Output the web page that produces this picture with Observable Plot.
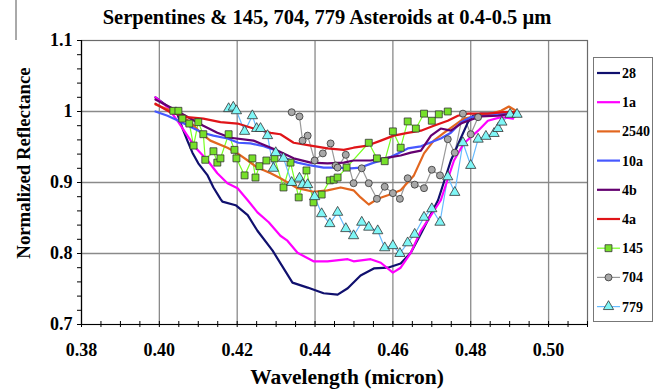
<!DOCTYPE html>
<html>
<head>
<meta charset="utf-8">
<script src="https://cdn.jsdelivr.net/npm/d3@7"></script>
<script src="https://cdn.jsdelivr.net/npm/@observablehq/plot@0.6"></script>
<style>
  body { margin: 0; background: #fff; }
  #wrap { position: relative; width: 666px; height: 390px; overflow: hidden; }
  #wrap svg { position: absolute; left: 0; top: 0; }
  #wrap, #wrap svg, #wrap text { font-family: "Liberation Serif", "Times New Roman", Times, "DejaVu Serif", serif !important; }
</style>
</head>
<body>
<div id="wrap"></div>
<script>
// ---- data (wavelength in micron, normalized reflectance) ----
const w28 = [0.399,0.4046,0.4059,0.4072,0.4085,0.41,0.4124,0.4139,0.4157,0.4162,0.4196,0.4227,0.4252,0.4291,0.4342,0.4381,0.4422,0.4458,0.4484,0.4517,0.4551,0.4587,0.462,0.4646,0.4672,0.4716,0.4749,0.4775,0.4793,0.4806,0.4826,0.4878,0.4909];
const r28 = [1.02,0.997,0.977,0.959,0.942,0.927,0.91,0.893,0.877,0.873,0.868,0.854,0.832,0.804,0.759,0.752,0.744,0.742,0.751,0.769,0.779,0.78,0.786,0.801,0.828,0.875,0.931,0.963,0.985,0.994,0.997,0.997,0.999];

const w1a = [0.399,0.4021,0.4049,0.4072,0.4093,0.4124,0.4149,0.4175,0.4201,0.4227,0.4252,0.4281,0.4311,0.4329,0.4355,0.4396,0.4432,0.4484,0.4499,0.4543,0.4569,0.46,0.462,0.4646,0.4672,0.4723,0.4757,0.4782,0.4819,0.4844,0.4878,0.4909];
const r1a = [1.02,1.006,0.985,0.966,0.949,0.931,0.913,0.899,0.892,0.875,0.858,0.844,0.825,0.818,0.801,0.789,0.789,0.792,0.789,0.792,0.787,0.773,0.78,0.801,0.832,0.875,0.931,0.955,0.973,0.987,0.992,0.99];

const w2540 = [0.399,0.4041,0.408,0.4106,0.4131,0.4175,0.4201,0.4227,0.4252,0.4286,0.4311,0.4355,0.4396,0.4432,0.4466,0.4499,0.4517,0.4538,0.4561,0.4587,0.462,0.4654,0.468,0.4705,0.4731,0.4757,0.4782,0.4819,0.4852,0.4878,0.4898,0.4916];
const r2540 = [1.01,0.999,0.985,0.97,0.959,0.949,0.941,0.931,0.921,0.913,0.906,0.892,0.887,0.889,0.893,0.889,0.879,0.869,0.877,0.882,0.889,0.91,0.941,0.959,0.97,0.98,0.99,0.994,0.997,1.001,1.007,1.001];

const w10a = [0.399,0.4021,0.4049,0.4085,0.4111,0.4139,0.4175,0.4203,0.4234,0.4268,0.4299,0.4319,0.4355,0.4389,0.4422,0.4458,0.4492,0.4517,0.4551,0.4587,0.4613,0.4638,0.4672,0.469,0.4723,0.4749,0.4775,0.48,0.4834,0.4878,0.4916];
const r10a = [1.0,0.994,0.987,0.977,0.97,0.966,0.962,0.956,0.955,0.951,0.945,0.935,0.928,0.924,0.921,0.921,0.92,0.921,0.928,0.934,0.941,0.948,0.951,0.955,0.962,0.97,0.985,0.992,0.994,0.997,0.999];

const w4b = [0.399,0.4028,0.4067,0.4113,0.4149,0.4183,0.4242,0.426,0.4299,0.4345,0.4389,0.4432,0.4474,0.4499,0.4543,0.4587,0.462,0.4646,0.4672,0.4698,0.4723,0.4749,0.4775,0.4793,0.4826,0.487,0.4911];
const r4b = [1.017,1.006,0.994,0.98,0.97,0.963,0.959,0.955,0.946,0.934,0.928,0.927,0.928,0.931,0.931,0.935,0.938,0.942,0.945,0.966,0.976,0.973,0.983,0.987,0.993,0.994,0.997];

const w4a = [0.399,0.4028,0.4072,0.4113,0.4157,0.4201,0.4242,0.4286,0.4311,0.4345,0.4389,0.4432,0.4474,0.4499,0.4535,0.4569,0.4602,0.4638,0.4672,0.4705,0.4741,0.4767,0.4793,0.4844,0.4885,0.4916];
const r4a = [1.011,0.999,0.992,0.99,0.985,0.983,0.976,0.97,0.968,0.956,0.952,0.948,0.946,0.949,0.952,0.959,0.966,0.97,0.973,0.98,0.987,0.994,0.997,0.997,0.999,0.999];

const w145 = [0.4036,0.4049,0.4059,0.4077,0.4088,0.41,0.4113,0.4118,0.4139,0.4149,0.4157,0.4178,0.4193,0.4198,0.4219,0.4239,0.4247,0.4257,0.4275,0.4296,0.4319,0.4337,0.4358,0.4378,0.4396,0.4417,0.4438,0.4448,0.4458,0.4481,0.4538,0.4559,0.4579,0.46,0.462,0.4638,0.4659,0.468,0.47,0.4718,0.4741];
const r145 = [1.001,1.001,0.99,0.983,0.952,0.985,0.968,0.932,0.944,0.928,0.934,0.968,0.946,0.934,0.91,0.934,0.907,0.923,0.931,0.934,0.893,0.928,0.879,0.917,0.872,0.883,0.903,0.904,0.907,0.921,0.956,0.934,0.93,0.972,0.949,0.986,0.976,0.997,0.987,0.996,1.0];

const w704 = [0.434,0.436,0.4368,0.4381,0.4399,0.442,0.444,0.4453,0.4458,0.4479,0.4499,0.452,0.4538,0.4559,0.4579,0.46,0.4618,0.4638,0.4656,0.468,0.47,0.4721,0.4741,0.4759,0.478,0.48,0.4819];
const r704 = [0.999,0.993,0.959,0.966,0.931,0.941,0.955,0.924,0.921,0.939,0.899,0.92,0.899,0.877,0.894,0.885,0.877,0.906,0.897,0.892,0.918,0.91,0.961,0.942,0.997,0.968,0.992];

const w779 = [0.4178,0.419,0.4198,0.4219,0.4239,0.425,0.426,0.4278,0.4293,0.4299,0.4319,0.434,0.436,0.4368,0.4381,0.4399,0.4417,0.4438,0.4458,0.4479,0.4499,0.452,0.4538,0.4561,0.4579,0.46,0.4618,0.4638,0.4656,0.468,0.47,0.4721,0.4741,0.4759,0.478,0.48,0.4819,0.4839,0.486,0.487,0.488,0.4901,0.4919];
const r779 = [1.004,1.006,1.001,0.972,0.994,0.976,0.976,0.966,0.92,0.942,0.934,0.9,0.906,0.897,0.897,0.88,0.856,0.842,0.858,0.835,0.825,0.844,0.837,0.832,0.808,0.811,0.8,0.815,0.827,0.851,0.863,0.844,0.908,0.886,0.956,0.924,0.961,0.965,0.969,0.976,0.985,0.996,0.996];

const xTicks = [0.38,0.40,0.42,0.44,0.46,0.48,0.50];
const yTicks = [0.7,0.8,0.9,1.0,1.1];

const lineSeries = [
  {name: "28",   color: "#10106e", w: w28,   r: r28},
  {name: "1a",   color: "#ff00ff", w: w1a,   r: r1a},
  {name: "2540", color: "#e2661f", w: w2540, r: r2540},
  {name: "10a",  color: "#4658ff", w: w10a,  r: r10a},
  {name: "4b",   color: "#640070", w: w4b,   r: r4b},
  {name: "4a",   color: "#e01418", w: w4a,   r: r4a}
];
const markSeries = [
  {name: "145", color: "#77ff22", fill: "#77e02a", symbol: "square",   size: 3.9, w: w145, r: r145},
  {name: "704", color: "#999999", fill: "#a8a8a8", symbol: "circle",   size: 3.5, w: w704, r: r704},
  {name: "779", color: "#66bbff", fill: "#7ff6f6", symbol: "triangle", size: 3.8, w: w779, r: r779}
];

const FONT = "'Liberation Serif', 'Times New Roman', Times, 'DejaVu Serif', serif";
const toRows = s => s.w.map((w, i) => ({w, r: s.r[i]}));

const xMinor = d3.range(76, 103).map(i => i / 200);
const yMinor = d3.range(35, 56).map(i => i / 50);
const xGrid = xTicks.filter(t => t > 0.385);
const yGrid = yTicks.filter(t => t > 0.75 && t < 1.05);

const marks = [
  Plot.gridX(xGrid, {stroke: "#8a8a8a", strokeOpacity: 1, strokeWidth: 1.3}),
  Plot.gridY(yGrid, {stroke: "#8a8a8a", strokeOpacity: 1, strokeWidth: 1.3}),
  Plot.frame({stroke: "#6a6a6a", strokeWidth: 1.2}),
  Plot.ruleY([0.7], {stroke: "#000", strokeWidth: 1.2}),
  Plot.ruleX([0.38], {stroke: "#000", strokeWidth: 1.2}),
  Plot.axisX({ticks: xMinor, tickSize: 6, dy: -3, tickFormat: () => "", label: null, stroke: "#000"}),
  Plot.axisX({ticks: xTicks, tickSize: 0, tickPadding: 19, tickFormat: d3.format(".2f"), label: null, fontSize: 18, fontWeight: "bold", fill: "#000", fontFamily: FONT}),
  Plot.axisY({ticks: yMinor, tickSize: 5, dx: 1, tickFormat: () => "", label: null, stroke: "#000"}),
  Plot.axisY({ticks: yTicks, tickSize: 0, tickPadding: 9, tickFormat: d => String(+d.toFixed(1)), label: null, fontSize: 18, fontWeight: "bold", fill: "#000", fontFamily: FONT})
];
for (const s of markSeries) {
  marks.push(Plot.line(toRows(s), {x: "w", y: "r", stroke: s.color, strokeWidth: 1.2}));
}
for (const s of lineSeries) {
  marks.push(Plot.line(toRows(s), {x: "w", y: "r", stroke: s.color, strokeWidth: 2.2}));
}
for (const s of markSeries) {
  marks.push(Plot.dot(toRows(s), {x: "w", y: "r", symbol: s.symbol, r: s.size, fill: s.fill, stroke: "#333", strokeWidth: 0.8}));
}

const chart = Plot.plot({
  width: 666,
  height: 390,
  marginLeft: 81,
  marginRight: 79,
  marginTop: 40,
  marginBottom: 66,
  style: {fontFamily: FONT, fontWeight: "bold", color: "#000", background: "transparent", overflow: "visible"},
  x: {domain: [0.38, 0.51], label: null},
  y: {domain: [0.7, 1.1], label: null},
  marks
});
const wrap = document.getElementById("wrap");
wrap.appendChild(chart);

// ---- titles, axis labels, legend overlay ----
const svg = d3.select(wrap).append("svg").attr("width", 666).attr("height", 390)
  .attr("font-family", FONT).attr("font-weight", "bold");

svg.append("line").attr("x1", 16).attr("x2", 16).attr("y1", 0).attr("y2", 40).attr("stroke", "#555").attr("stroke-width", 1);

svg.append("text").attr("x", 327).attr("y", 24).attr("text-anchor", "middle").attr("font-size", 20.5)
  .text("Serpentines & 145, 704, 779 Asteroids at 0.4-0.5 µm");
svg.append("text").attr("x", 347).attr("y", 384).attr("text-anchor", "middle").attr("font-size", 21.5)
  .text("Wavelength (micron)");
svg.append("text").attr("transform", "translate(30,163) rotate(-90)").attr("text-anchor", "middle").attr("font-size", 18.8)
  .text("Normalized Reflectance");

const lg = svg.append("g");
lg.append("rect").attr("x", 593.5).attr("y", 57.5).attr("width", 59).attr("height", 264)
  .attr("fill", "#fff").attr("stroke", "#777").attr("stroke-width", 1);
const legendItems = [...lineSeries, ...markSeries];
const symbolMap = {square: d3.symbolSquare, circle: d3.symbolCircle, triangle: d3.symbolTriangle};
legendItems.forEach((s, i) => {
  const y = 73 + i * 29.2;
  lg.append("line").attr("x1", 597).attr("x2", 620).attr("y1", y).attr("y2", y)
    .attr("stroke", s.color).attr("stroke-width", s.symbol ? 1.2 : 2.2);
  if (s.symbol) {
    lg.append("path").attr("d", d3.symbol(symbolMap[s.symbol], Math.PI * s.size * s.size)())
      .attr("transform", `translate(608.5,${y})`).attr("fill", s.fill).attr("stroke", "#333").attr("stroke-width", 0.8);
  }
  lg.append("text").attr("x", 622).attr("y", y).attr("dy", "0.35em").attr("font-size", 14).text(s.name);
});
</script>
</body>
</html>
